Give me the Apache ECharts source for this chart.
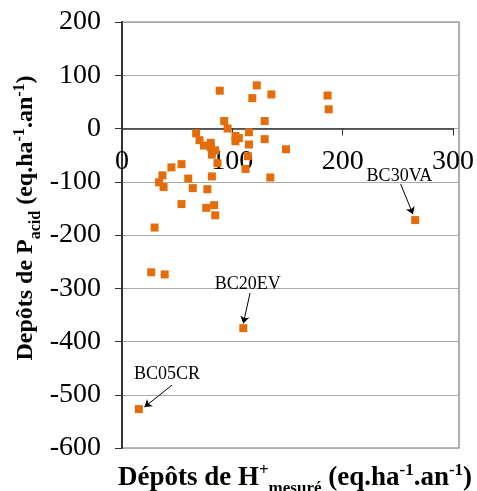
<!DOCTYPE html>
<html>
<head>
<meta charset="utf-8">
<script src="https://cdn.jsdelivr.net/npm/echarts@6/dist/echarts.min.js"></script>
<style>
  html, body { margin: 0; padding: 0; background: #fff; }
  #chart { width: 477px; height: 491px; }
</style>
</head>
<body>
<div id="chart"></div>
<script>
// measured H+ deposits (x) vs Pacid deposits (y)
var hPlus = [87, 120, 116, 133, 91, 94, 66, 69, 73, 79, 79, 83, 80, 101, 104, 101,
    113, 113, 127, 127, 146, 85, 110, 132, 80, 44, 53, 36, 33, 37, 59, 63, 76,
    53, 75, 82, 183, 184, 261, 83, 29, 26, 38, 108, 15, 112];
var pAcid = [71, 81, 57, 64, 14, 0, -9, -22, -32, -27, -35, -41, -49, -14, -18, -24,
    -7, -30, 14, -20, -39, -65, -76, -92, -90, -73, -67, -88, -101, -110, -94, -112, -114,
    -142, -149, -144, 62, 36, -172, -163, -186, -270, -274, -375, -527, -52];

var xTicks = [0, 300, 100];
var yTicks = [-600, 200, 100];

// labelled sites: text position, arrow start, arrow end (data units)
var siteNames = ['BC30VA', 'BC20EV', 'BC05CR'];
var siteText = [[247, -89], [112, -292], [40, -461]];
var arrowFrom = [[248, -104], [114, -309], [44.5, -482]];
var arrowTo = [[259, -161], [108, -366], [20, -523]];

var chartDom = document.getElementById('chart');
var myChart = echarts.init(chartDom);

var serif = 'Liberation Serif';

var points = hPlus.map(function (x, i) { return [x, pAcid[i]]; });

var siteLabels = siteNames.map(function (n, i) {
    return { name: n, coord: siteText[i] };
});
var siteArrows = siteNames.map(function (n, i) {
    return [{ coord: arrowFrom[i] }, { coord: arrowTo[i] }];
});

function titleRich(size, small) {
    return {
        b: { fontFamily: serif, fontWeight: 'bold', fontSize: size, lineHeight: size + 12, color: '#000', verticalAlign: 'middle' },
        sub: { fontFamily: serif, fontWeight: 'bold', fontSize: small, lineHeight: small, color: '#000', verticalAlign: 'bottom' },
        sup: { fontFamily: serif, fontWeight: 'bold', fontSize: small, lineHeight: small, color: '#000', verticalAlign: 'top', padding: [4, 0, 0, 0] }
    };
}

// the zero line of the y scale sits 200/800 of the way down the plot
var plotTop = 22, plotBottom = 43, chartH = 491;
var zeroY = plotTop + (chartH - plotTop - plotBottom) * (yTicks[1] / (yTicks[1] - yTicks[0]));

var option = {
    animation: false,
    grid: [{
        left: 122, right: 18, top: plotTop, bottom: plotBottom,
        show: true, borderColor: '#777', borderWidth: 1.2
    }, {
        // only carries the x axis drawn across y = 0
        left: 122, right: 18, top: plotTop, bottom: chartH - zeroY
    }],
    xAxis: [{
        type: 'value', gridIndex: 0,
        min: xTicks[0], max: xTicks[1], interval: xTicks[2],
        axisLine: { show: false },
        axisTick: { show: false },
        axisLabel: { show: false },
        splitLine: { show: false }
    }, {
        type: 'value', gridIndex: 1,
        min: xTicks[0], max: xTicks[1], interval: xTicks[2],
        axisLine: { onZero: false, lineStyle: { color: '#333', width: 1.5 } },
        axisTick: { show: true, length: 7, lineStyle: { color: '#333' } },
        axisLabel: { margin: 19, color: '#000', fontFamily: serif, fontSize: 28 },
        splitLine: { show: false }
    }],
    yAxis: [{
        type: 'value', gridIndex: 0,
        min: yTicks[0], max: yTicks[1], interval: yTicks[2],
        axisLine: { show: true, onZero: false, lineStyle: { color: '#333', width: 2 } },
        axisTick: { show: true, length: 7, lineStyle: { color: '#333' } },
        axisLabel: { margin: 21, color: '#000', fontFamily: serif, fontSize: 28 },
        splitLine: { show: true, lineStyle: { color: '#aaa', width: 1.2 } }
    }, {
        type: 'value', gridIndex: 1, show: false, min: 0, max: 1
    }],
    series: [{
        type: 'scatter',
        xAxisIndex: 0, yAxisIndex: 0,
        symbol: 'rect',
        symbolSize: 8,
        itemStyle: { color: '#E46C0A', opacity: 1 },
        data: points,
        markPoint: {
            symbol: 'rect',
            symbolSize: 1,
            itemStyle: { color: 'rgba(0,0,0,0)' },
            label: {
                show: true, position: 'inside', formatter: '{b}',
                color: '#000', fontFamily: serif, fontSize: 18
            },
            data: siteLabels
        },
        markLine: {
            silent: true,
            symbol: ['none', 'arrow'],
            symbolSize: 7,
            lineStyle: { color: '#000', width: 1, type: 'solid' },
            label: { show: false },
            data: siteArrows
        }
    }],
    graphic: [{
        type: 'text',
        x: 295, y: 478,
        style: {
            text: '{b|Dépôts de H}{sup|+}{sub|mesuré}{b| (eq.ha}{sup|-1}{b|.an}{sup|-1}{b|)}',
            rich: titleRich(27, 17),
            align: 'center', verticalAlign: 'middle'
        }
    }, {
        type: 'text',
        x: 26, y: 218,
        rotation: Math.PI / 2,
        style: {
            text: '{b|Depôts de P}{sub|acid}{b| (eq.ha}{sup|-1}{b|.an}{sup|-1}{b|)}',
            rich: titleRich(24, 16),
            align: 'center', verticalAlign: 'middle'
        }
    }]
};

myChart.setOption(option);
</script>
</body>
</html>
